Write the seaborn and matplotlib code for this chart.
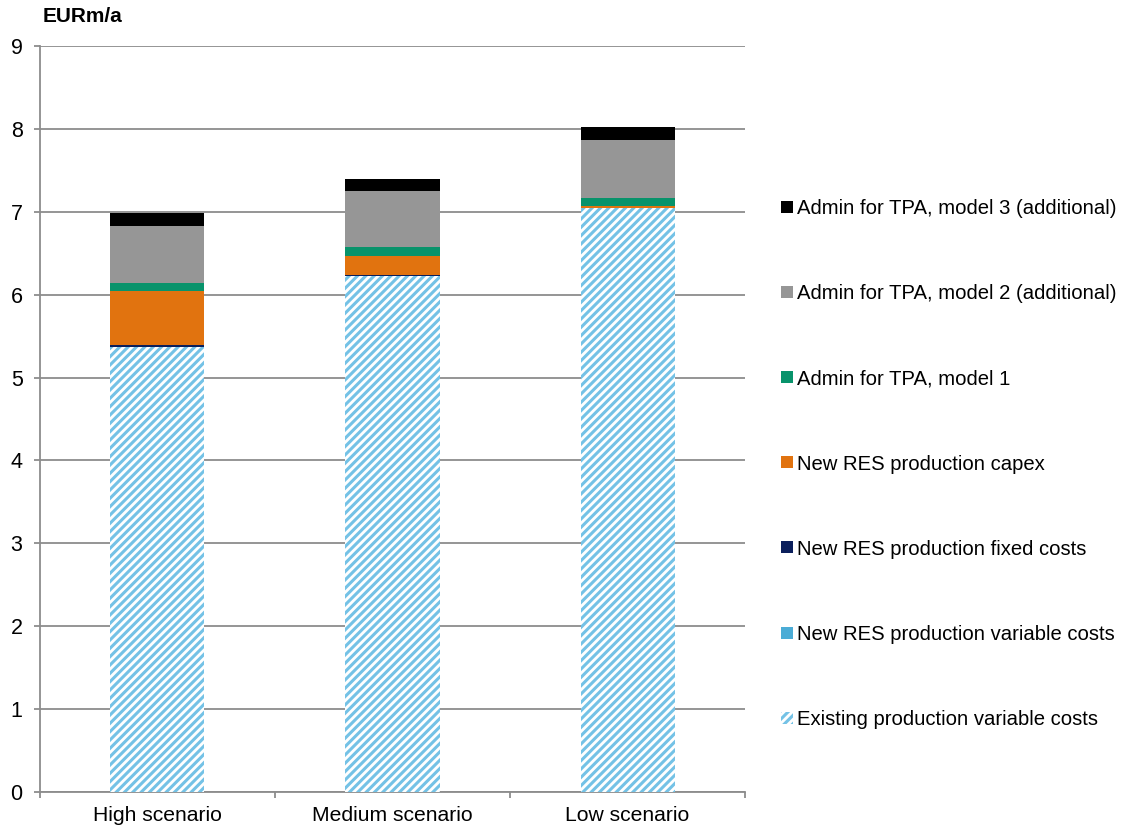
# =========================================
# Stacked cost bars per scenario (EURm/a)
# =========================================

import pandas as pd
import matplotlib
matplotlib.use("Agg")
import matplotlib.pyplot as plt
from matplotlib.patches import Patch
import seaborn as sns

# =========================================
# Data
# =========================================

scenarios = ["High scenario", "Medium scenario", "Low scenario"]

existing_var = [5.37, 6.22, 7.05]
new_res_var = [0.00, 0.00, 0.00]
new_res_fixed = [0.02, 0.02, 0.00]
new_res_capex = [0.65, 0.23, 0.02]
admin_m1 = [0.10, 0.10, 0.10]
admin_m2 = [0.69, 0.68, 0.69]
admin_m3 = [0.16, 0.15, 0.16]

series_names = [
    "Existing production variable costs",
    "New RES production variable costs",
    "New RES production fixed costs",
    "New RES production capex",
    "Admin for TPA, model 1",
    "Admin for TPA, model 2 (additional)",
    "Admin for TPA, model 3 (additional)",
]
series_values = [existing_var, new_res_var, new_res_fixed, new_res_capex,
                 admin_m1, admin_m2, admin_m3]
series_colors = ["#ffffff", "#4bacd6", "#0b1f5c", "#e1730f",
                 "#08936b", "#969696", "#000000"]

y_ticks = list(range(0, 10))

# cumulative tops of each layer
df = pd.DataFrame({name: vals for name, vals in zip(series_names, series_values)},
                  index=scenarios)
cum = df.cumsum(axis=1)

# =========================================
# Style
# =========================================

sns.set_style("white")
plt.rcParams["font.family"] = ["Liberation Sans", "DejaVu Sans"]
plt.rcParams["text.color"] = "black"
plt.rcParams["xtick.color"] = "black"
plt.rcParams["ytick.color"] = "black"
plt.rcParams["hatch.linewidth"] = 2.2
plt.rcParams["hatch.color"] = "#74c2e6"

fig = plt.figure(figsize=(11.41, 8.30), dpi=100)
ax = fig.add_axes([0.035, 0.0458, 0.618, 0.8988])

# =========================================
# Bars (tallest cumulative first, smaller ones on top)
# =========================================

for i in range(len(series_names) - 1, -1, -1):
    name = series_names[i]
    plot_df = pd.DataFrame({"scenario": scenarios, "value": cum[name].values})
    kws = dict(color=series_colors[i], saturation=1, width=0.4,
               errorbar=None, linewidth=0, ax=ax, zorder=3)
    if i == 0:
        kws.update(hatch="////", edgecolor="#74c2e6")
    sns.barplot(data=plot_df, x="scenario", y="value", **kws)

# =========================================
# Axes
# =========================================

ax.set_ylim(0, 9)
ax.set_xlim(-0.5, 2.5)
ax.set_yticks(y_ticks)
ax.set_xlabel("")
ax.set_ylabel("")
ax.yaxis.grid(True, color="#8c8c8c", linewidth=1.3, zorder=0)
ax.set_axisbelow(True)
for side in ["top", "right"]:
    ax.spines[side].set_visible(False)
for side in ["left", "bottom"]:
    ax.spines[side].set_color("#8c8c8c")
    ax.spines[side].set_linewidth(1.3)

ax.tick_params(axis="y", which="major", length=4.5, width=1.3, color="#8c8c8c",
               labelcolor="black", labelsize=15.5, pad=8, left=True)
ax.tick_params(axis="x", which="major", length=0, labelsize=15.2,
               labelcolor="black", pad=10)
ax.set_xticks([-0.5, 0.5, 1.5, 2.5], minor=True)
ax.tick_params(axis="x", which="minor", length=4.5, width=1.3, color="#8c8c8c",
               bottom=True)

fig.text(43 / 1141, 1 - 17 / 830, "EURm/a", fontsize=15, fontweight="bold",
         va="center", ha="left", color="black")

# =========================================
# Legend
# =========================================

handles = []
for i in range(len(series_names) - 1, -1, -1):
    if i == 0:
        handles.append(Patch(facecolor="white", edgecolor="#74c2e6", hatch="////",
                             linewidth=0, label=series_names[i]))
    else:
        handles.append(Patch(facecolor=series_colors[i], linewidth=0,
                             label=series_names[i]))

fig.legend(handles=handles, loc="center left",
           bbox_to_anchor=(781 / 1141, 1 - 464 / 830),
           frameon=False, fontsize=14.6, handlelength=0.59, handleheight=0.53,
           handletextpad=0.21, labelspacing=3.26, borderpad=0, borderaxespad=0,
           labelcolor="black")

fig.savefig("out.png", dpi=100)
